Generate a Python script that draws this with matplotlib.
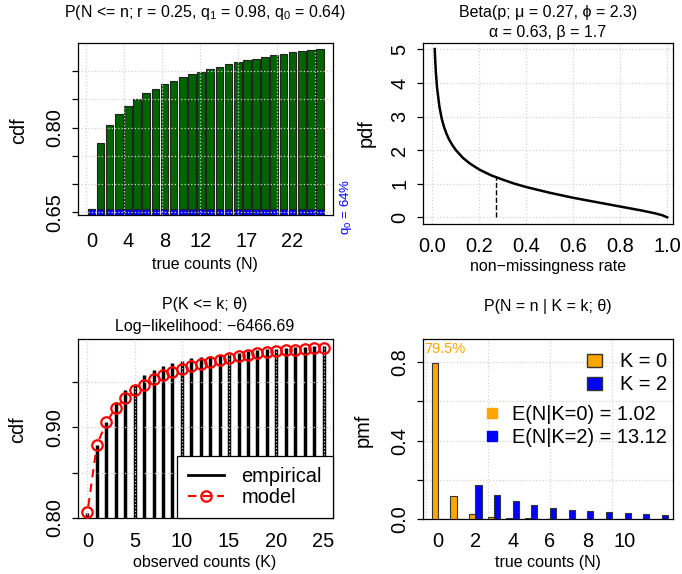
import numpy as np
import matplotlib
matplotlib.use("Agg")
import matplotlib.pyplot as plt
from matplotlib.lines import Line2D
from matplotlib.patches import Patch

plt.rcParams['font.family'] = ['Liberation Sans', 'DejaVu Sans']
plt.rcParams['mathtext.fontset'] = 'custom'
plt.rcParams['mathtext.rm'] = 'Liberation Sans'
plt.rcParams['mathtext.it'] = 'Liberation Sans:italic'

# ---- data ----
# panel 1 : cdf of true counts
true_counts = list(range(26))
cdf_true = [0.6565, 0.772, 0.8044, 0.8244, 0.8385, 0.8504, 0.8605, 0.8686, 0.8764,
            0.8828, 0.8888, 0.894, 0.8987, 0.9029, 0.9075, 0.9117, 0.9153, 0.9188,
            0.9217, 0.9252, 0.9276, 0.930, 0.933, 0.9348, 0.937, 0.9394]
q0_level = 0.6565
shown_names = [0, 4, 8, 12, 17, 22]

# panel 2 : beta density
p_vals = [0.01, 0.012, 0.015, 0.02, 0.03, 0.04, 0.05, 0.06, 0.07, 0.085, 0.1, 0.13,
          0.16, 0.2, 0.25, 0.3, 0.35, 0.4, 0.5, 0.6, 0.7, 0.8, 0.9, 0.95, 0.98, 1.0]
pdf_vals = [5.01, 4.68, 4.30, 3.85, 3.29, 2.93, 2.68, 2.49, 2.33, 2.15, 2.00, 1.77,
            1.60, 1.42, 1.25, 1.12, 1.00, 0.90, 0.73, 0.58, 0.45, 0.32, 0.19, 0.115,
            0.06, 0.0]
mu = 0.27
pdf_at_mu = 1.19

# panel 3 : observed counts cdf
obs_counts = list(range(26))
emp_cdf = [0.806, 0.8806, 0.9055, 0.928, 0.941, 0.947, 0.9573, 0.9628, 0.9675, 0.9705,
           0.9735, 0.9763, 0.9774, 0.9785, 0.980, 0.9807, 0.9822, 0.9837, 0.985,
           0.9858, 0.9866, 0.9873, 0.988, 0.9888, 0.9894, 0.990]
model_cdf = [0.8064, 0.8806, 0.9055, 0.9215, 0.9325, 0.9406, 0.947, 0.953, 0.9573,
             0.9614, 0.9647, 0.9672, 0.9697, 0.972, 0.9746, 0.9768, 0.9785, 0.980,
             0.9815, 0.9826, 0.9837, 0.9848, 0.9855, 0.9862, 0.987, 0.9877]

# panel 4 : posterior of N given K
n_vals = list(range(13))
pmf_k0 = [0.795, 0.12, 0.027, 0.013, 0.008, 0.005, 0.004, 0.003, 0.002, 0.002,
          0.0015, 0.001, 0.001]
pmf_k2 = [0.0, 0.0, 0.173, 0.125, 0.093, 0.072, 0.058, 0.048, 0.041, 0.035,
          0.031, 0.026, 0.023]
mean_k0 = 1.02
mean_k2 = 13.12

W, H = 682, 574
fig = plt.figure(figsize=(W / 100, H / 100), dpi=100)


def px_axes(l, t, r, b):
    return fig.add_axes([l / W, 1 - b / H, (r - l) / W, (b - t) / H])


def ftext(x, y, s, **kw):
    fig.text(x / W, 1 - y / H, s, ha='center', va='center', **kw)


TICK = 14.4
LAB = 11.5
gridkw = dict(color='lightgray', ls=':', lw=0.9)


def style(ax, xpad):
    for sp in ax.spines.values():
        sp.set_linewidth(0.9)
    ax.tick_params(axis='x', length=0, labelsize=TICK, pad=xpad)
    ax.tick_params(axis='y', length=4, width=0.9, labelsize=TICK, pad=6, labelrotation=90)
    for lab in ax.get_yticklabels():
        lab.set_va('center')


# ---------------- panel 1 ----------------
ax1 = px_axes(78, 43, 333, 215)
pos1 = 0.7 + 1.2 * np.array(true_counts)
ax1.bar(pos1, cdf_true, width=1, color='#006400', edgecolor='#222222', lw=0.8, zorder=1)
ax1.bar(pos1, [q0_level] * len(pos1), width=1, color='blue', edgecolor='#222222',
        lw=0.8, zorder=1.2)
ax1.set_xlim(-1.05, 32.4)
ax1.set_ylim(0.6452, 0.9495)
for gx in range(0, 35, 5):
    ax1.axvline(gx, zorder=2, **gridkw)
y1t = [0.65, 0.70, 0.75, 0.80, 0.85, 0.90]
for gy in y1t:
    ax1.axhline(gy, zorder=2, **gridkw)
ax1.set_xticks(pos1[shown_names])
ax1.set_xticklabels([str(n) for n in shown_names])
ax1.set_yticks(y1t)
ax1.set_yticklabels(['0.65', '', '', '0.80', '', ''])
style(ax1, 12)
ftext(205, 12, 'P(N <= n; r = 0.25, q$_1$ = 0.98, q$_0$ = 0.64)', fontsize=LAB)
ftext(205, 264, 'true counts (N)', fontsize=LAB)
ftext(19, 131, 'cdf', fontsize=TICK, rotation=90)
ftext(346, 207, 'q$_0$ = 64%', fontsize=9.5, color='blue', rotation=90)

# ---------------- panel 2 ----------------
ax2 = px_axes(423, 43, 673, 224)
ax2.plot(p_vals, pdf_vals, color='black', lw=1.8, zorder=3)
ax2.plot([mu, mu], [0, pdf_at_mu], color='black', ls='--', lw=1, zorder=3)
ax2.set_xlim(-0.04, 1.025)
ax2.set_ylim(-0.2, 5.19)
ax2.set_xticks([0, 0.2, 0.4, 0.6, 0.8, 1.0])
ax2.set_xticklabels(['0.0', '0.2', '0.4', '0.6', '0.8', '1.0'])
ax2.set_yticks([0, 1, 2, 3, 4, 5])
ax2.grid(True, **gridkw)
style(ax2, 9)
ftext(548, 12, 'Beta(p; μ = 0.27, ϕ = 2.3)', fontsize=LAB)
ftext(548, 33, 'α = 0.63, β = 1.7', fontsize=LAB)
ftext(548, 266, 'non−missingness rate', fontsize=LAB)
ftext(366, 133, 'pdf', fontsize=TICK, rotation=90)

# ---------------- panel 3 ----------------
ax3 = px_axes(78, 338.7, 333, 518)
ax3.vlines(obs_counts, 0, emp_cdf, color='black', lw=2.5, zorder=1.5)
ax3.set_xlim(-1, 26)
ax3.set_ylim(0.80, 0.9976)
# type = "b" : dashed pieces that stop short of each circle
pts = ax3.transData.transform(np.column_stack([obs_counts, model_cdf]))
gap = 6.0
for a, b in zip(pts[:-1], pts[1:]):
    d = b - a
    L = np.hypot(*d)
    if L <= 2 * gap:
        continue
    u = d / L
    seg = ax3.transData.inverted().transform([a + u * gap, b - u * gap])
    ax3.plot(seg[:, 0], seg[:, 1], color='red', ls=(0, (4, 3)), lw=1.5, zorder=3)
ax3.plot(obs_counts, model_cdf, ls='none', color='red', marker='o', ms=7.5,
         mfc='none', mew=1.6, zorder=3)
ax3.set_xticks([0, 5, 10, 15, 20, 25])
ax3.set_yticks([0.80, 0.85, 0.90, 0.95])
ax3.set_yticklabels(['0.80', '', '0.90', ''])
ax3.grid(True, **gridkw)
ax3.set_axisbelow(False)
style(ax3, 10)
leg3 = ax3.legend(handles=[Line2D([], [], color='black', lw=2),
                           Line2D([], [], color='red', ls=(0, (4, 3)), lw=1.5, marker='o',
                                  ms=7.5, mfc='none', mew=1.6)],
                  labels=['empirical', 'model'], loc='lower right',
                  bbox_to_anchor=(1, 0), borderaxespad=0, fontsize=TICK,
                  handlelength=1.8, handletextpad=0.9, labelspacing=0.1,
                  borderpad=0.55, fancybox=False, framealpha=1, edgecolor='black')
leg3.get_frame().set_linewidth(0.9)
leg3.set_zorder(5)
ftext(205, 305, 'P(K <= k; θ)', fontsize=LAB)
ftext(205, 326, 'Log−likelihood: −6466.69', fontsize=LAB)
ftext(205, 563, 'observed counts (K)', fontsize=LAB)
ftext(18, 430, 'cdf', fontsize=TICK, rotation=90)

# ---------------- panel 4 ----------------
ax4 = px_axes(423, 338.7, 673, 519.3)
grp = np.array(n_vals)
ax4.bar(1.5 + 3 * grp, pmf_k0, width=1, color='orange', edgecolor='#333333', lw=0.8, zorder=3)
ax4.bar(2.5 + 3 * grp, pmf_k2, width=1, color='blue', edgecolor='#333333', lw=0.8, zorder=3)
ax4.set_xlim(-0.42, 39.8)
ax4.set_ylim(0, 0.918)
shown_n = [0, 2, 4, 6, 8, 10]
ax4.set_xticks(2 + 3 * np.array(shown_n))
ax4.set_xticklabels([str(n) for n in shown_n])
ax4.set_yticks([0, 0.2, 0.4, 0.6, 0.8])
ax4.set_yticklabels(['0.0', '', '0.4', '', '0.8'])
for gx in range(0, 40, 10):
    ax4.axvline(gx, zorder=1, **gridkw)
for gy in [0, 0.2, 0.4, 0.6, 0.8]:
    ax4.axhline(gy, zorder=1, **gridkw)
style(ax4, 9)
ax4.text(-0.2, pmf_k0[0] + 0.07, '%.1f%%' % (pmf_k0[0] * 100), color='orange',
         fontsize=10.5, ha='left', va='center')
legA = ax4.legend(handles=[Patch(facecolor='orange', edgecolor='#333333'),
                           Patch(facecolor='blue', edgecolor='#333333')],
                  labels=['K = 0', 'K = 2'], loc='upper right',
                  bbox_to_anchor=(0.976, 0.925), borderaxespad=0, borderpad=0,
                  frameon=False, fontsize=TICK, handlelength=0.75, handleheight=0.6,
                  handletextpad=0.9, labelspacing=0.2)
ax4.add_artist(legA)
ax4.legend(handles=[Line2D([], [], ls='none', marker='s', ms=6.5, color='orange'),
                    Line2D([], [], ls='none', marker='s', ms=6.5, color='blue')],
           labels=['E(N|K=0) = %.2f' % mean_k0, 'E(N|K=2) = %.2f' % mean_k2],
           loc='upper right', bbox_to_anchor=(0.976, 0.635), borderaxespad=0,
           borderpad=0, frameon=False, fontsize=TICK, handlelength=0.8,
           handletextpad=0.6, labelspacing=0.2)
ftext(548, 307, 'P(N = n | K = k; θ)', fontsize=LAB)
ftext(548, 563, 'true counts (N)', fontsize=LAB)
ftext(363, 430, 'pmf', fontsize=TICK, rotation=90)

fig.savefig('out.png', dpi=100)
